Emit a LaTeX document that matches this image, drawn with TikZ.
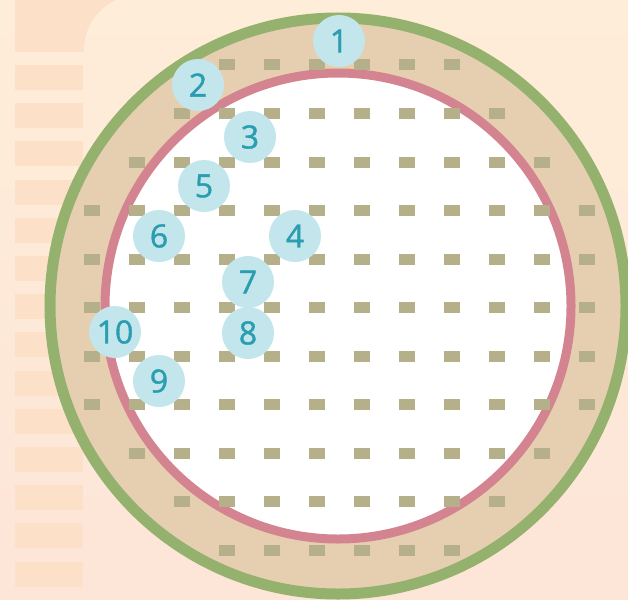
\documentclass[tikz,border=0pt]{standalone}
\usepackage{fontspec}
\setsansfont{Open Sans}
\newfontfamily\bubblefont[FakeBold=1.2]{Open Sans}
\usepackage{xcolor}
\usepackage{tikz}

\definecolor{cream}{HTML}{FEEDD8}
\definecolor{creamlow}{HTML}{FDE5D8}
\definecolor{peach}{HTML}{FDE0C8}
\definecolor{ringgreen}{HTML}{94B26E}
\definecolor{ringpink}{HTML}{D48490}
\definecolor{ringtan}{HTML}{E6CFB0}
\definecolor{dotgrey}{HTML}{B5B08A}
\definecolor{bubblefill}{HTML}{C2E6EC}
\definecolor{bubbletext}{HTML}{2A9DB0}

\begin{document}
\begin{tikzpicture}[x=1pt, y=-1pt,
  bubble/.style={circle, fill=bubblefill, minimum size=52pt, inner sep=0pt,
    text=bubbletext, font=\bubblefont\fontsize{32}{32}\selectfont},
  griddot/.style={fill=dotgrey}]
  \useasboundingbox (0,0) rectangle (628,599);
  \clip (0,0) rectangle (628,599);
  % background and left stripes
  \shade[top color=cream, bottom color=creamlow] (0,0) rectangle (628,599);
  \fill[peach] (15,0) rectangle (140,52);
  \shade[top color=cream, bottom color=creamlow]
    (84,610) [rounded corners=55pt] -- (84,-5) -- (640,-5) [sharp corners] -- (640,610) -- cycle;
  \foreach \k in {0,...,13}
    \fill[peach] (15,{65+38.2*\k}) rectangle (83,{90+38.2*\k});
  % rings
  \coordinate (c) at (338,306);
  \draw[ringgreen, line width=11pt, fill=ringtan] (c) circle (288pt);
  \draw[ringpink, line width=9pt, fill=white] (c) circle (233pt);
  % grid of dots
  \foreach \r/\a/\b in {0/3/8,1/2/9,2/1/10,3/0/11,4/0/11,5/0/11,6/0/11,7/0/11,8/1/10,9/2/9,10/3/8}
    \foreach \c in {\a,...,\b}
      \fill[griddot] ({84+45*\c},{59.5+48.5*\r}) rectangle ++(16,11);
  % numbered bubbles
  \foreach \n/\x/\y in {1/339/41,2/198/85,3/250/137,4/295/236,5/204/186,
                        6/159/236,7/248/282,8/248/333,9/159/381,10/115/332}
    \node[bubble] (b\n) at (\x,\y) {\n};
\end{tikzpicture}
\end{document}
